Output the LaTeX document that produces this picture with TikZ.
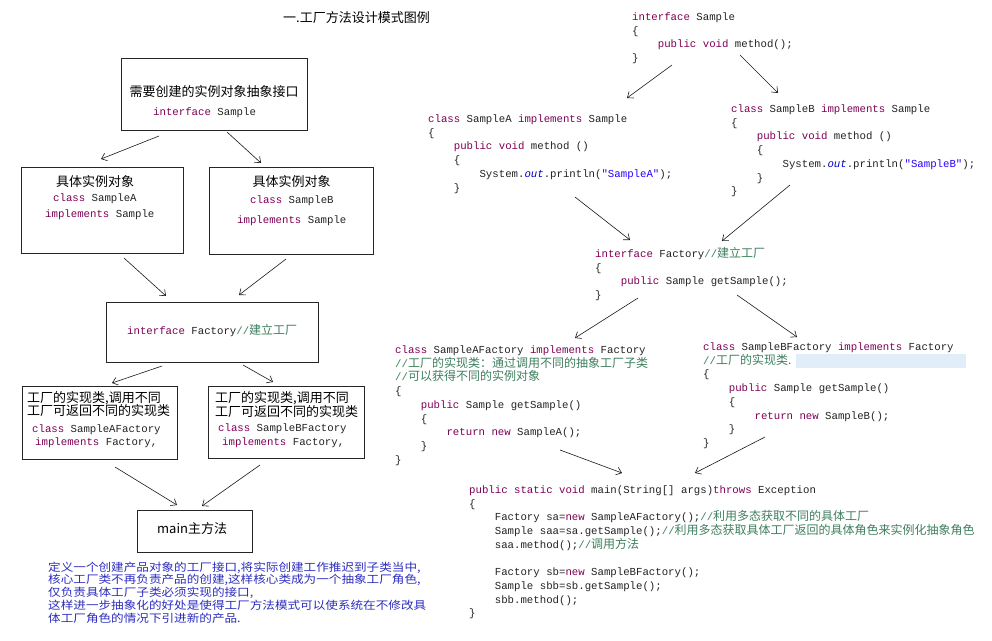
\documentclass[tikz,border=0pt]{standalone}
\usepackage{fontspec}
\usepackage{graphicx}
\setmainfont{Noto Sans CJK SC}
\setmonofont{Liberation Mono}
\newfontfamily\zhf{Noto Sans CJK SC}
\usetikzlibrary{arrows.meta}
\definecolor{kwc}{RGB}{127,0,85}
\definecolor{cmc}{RGB}{63,127,95}
\definecolor{strc}{RGB}{42,0,255}
\definecolor{fldc}{RGB}{0,0,192}
\definecolor{notec}{RGB}{45,45,190}
\definecolor{hlc}{RGB}{225,238,250}
\definecolor{codec}{RGB}{35,35,35}
\newcommand\K[1]{\textcolor{kwc}{#1}}
\newcommand\Zc[1]{\textcolor{cmc}{//\smash{\zhf\fontsize{12}{13.7}\selectfont #1}}}
\newcommand\Str[1]{\textcolor{strc}{#1}}
\newcommand\Fld[1]{\textcolor{fldc}{\itshape #1}}
\newcommand\ind{\phantom{xxxx}}
\newcommand\indd{\phantom{xxxxxxxx}}
\newcommand\cb[1]{\begin{tabular}[t]{@{}l@{}}#1\end{tabular}}
\tikzset{
  code/.style={anchor=base west, inner sep=0, text=codec,
    font=\ttfamily\fontsize{10.7}{13.7}\selectfont},
  zh/.style={anchor=base west, inner sep=0, text=black,
    font=\zhf\fontsize{13}{13}\selectfont},
  box/.style={draw=black!85, line width=0.9pt, inner sep=0, anchor=north west},
  arr/.style={line width=0.6pt, black!90, -{Straight Barb[length=5pt,width=8pt]}}
}
\begin{document}
\begin{tikzpicture}[x=1pt,y=-1pt]
\useasboundingbox (0,0) rectangle (992,640);
\fill[white] (0,0) rectangle (992,640);

% title
\node[zh] (title) at (283,22.5) {一.工厂方法设计模式图例};

% ---------------- left diagram ----------------
\node[box, minimum width=186pt, minimum height=72pt] (top) at (121,58) {};
\node[zh, anchor=base] (topzh) at (214,96.5) {需要创建的实例对象抽象接口};
\node[code] (topcode) at (153,115.5) {\K{interface} Sample};

\node[box, minimum width=162pt, minimum height=86pt] (boxA) at (21,167) {};
\node[zh, anchor=base] (boxAzh) at (95,186.5) {具体实例对象};
\node[code] (boxAc1) at (53,201.5) {\K{class} SampleA};
\node[code] (boxAc2) at (45,217.5) {\K{implements} Sample};

\node[box, minimum width=164pt, minimum height=87pt] (boxB) at (209,167) {};
\node[zh, anchor=base] (boxBzh) at (291.5,186.5) {具体实例对象};
\node[code] (boxBc1) at (250,203.5) {\K{class} SampleB};
\node[code] (boxBc2) at (237,223.5) {\K{implements} Sample};

\node[box, minimum width=212pt, minimum height=60pt] (fac) at (106,302) {};
\node[code] (facc) at (127,334.5) {\K{interface} Factory\Zc{建立工厂}};

\node[box, minimum width=155pt, minimum height=73pt] (boxAF) at (22,386) {};
\node[zh] (boxAFz1) at (27,402.5) {工厂的实现类,调用不同};
\node[zh] (boxAFz2) at (27,415.5) {工厂可返回不同的实现类};
\node[code] (boxAFc1) at (32,432.5) {\K{class} SampleAFactory};
\node[code] (boxAFc2) at (35,445.5) {\K{implements} Factory,};

\node[box, minimum width=156pt, minimum height=72pt] (boxBF) at (208,386) {};
\node[zh] (boxBFz1) at (215,402.5) {工厂的实现类,调用不同};
\node[zh] (boxBFz2) at (215,416) {工厂可返回不同的实现类};
\node[code] (boxBFc1) at (218,431.5) {\K{class} SampleBFactory};
\node[code] (boxBFc2) at (222,445.5) {\K{implements} Factory,};

\node[box, minimum width=115pt, minimum height=42pt] (mainbox) at (137,510) {};
\node[zh] (mainzh) at (157,533.5) {main主方法};

\node[anchor=base west, inner sep=0, text=notec] (desc) at (48,571)
 {\scalebox{1}[0.88]{\zhf\fontsize{12.6}{13}\selectfont\begin{tabular}[t]{@{}l@{}}
 定义一个创建产品对象的工厂接口,将实际创建工作推迟到子类当中,\\
 核心工厂类不再负责产品的创建,这样核心类成为一个抽象工厂角色,\\
 仅负责具体工厂子类必须实现的接口,\\
 这样进一步抽象化的好处是使得工厂方法模式可以使系统在不修改具\\
 体工厂角色的情况下引进新的产品.\end{tabular}}};

% left arrows
\coordinate (a1s) at (159,136); \coordinate (a1e) at (101,159);
\coordinate (a2s) at (227,132); \coordinate (a2e) at (261,163);
\coordinate (a3s) at (124,258); \coordinate (a3e) at (166,296);
\coordinate (a4s) at (286,259); \coordinate (a4e) at (239,295);
\coordinate (a5s) at (162,366); \coordinate (a5e) at (112,383);
\coordinate (a6s) at (243,365); \coordinate (a6e) at (273,382);
\coordinate (a7s) at (115,467); \coordinate (a7e) at (177,505);
\coordinate (a8s) at (260,465); \coordinate (a8e) at (202,506);
\foreach \i in {1,...,8} \draw[arr] (a\i s) -- (a\i e);

% ---------------- right code ----------------
\fill[hlc] (796,354) rectangle (966,368);

\node[code] (cS) at (632,20.5) {\cb{\K{interface} Sample\\
\{\\
\ind\K{public} \K{void} method();\\
\}}};

\node[code] (cA) at (428,122.5) {\cb{\K{class} SampleA \K{implements} Sample\\
\{\\
\ind\K{public} \K{void} method ()\\
\ind\{\\
\indd System.\Fld{out}.println(\Str{"SampleA"});\\
\ind\}}};

\node[code] (cB) at (731,112.5) {\cb{\K{class} SampleB \K{implements} Sample\\
\{\\
\ind\K{public} \K{void} method ()\\
\ind\{\\
\indd System.\Fld{out}.println(\Str{"SampleB"});\\
\ind\}\\
\}}};

\node[code] (cF) at (595,257.5) {\cb{\K{interface} Factory\Zc{建立工厂}\\
\{\\
\ind\K{public} Sample getSample();\\
\}}};

\node[code] (cAF) at (395,353.5) {\cb{\K{class} SampleAFactory \K{implements} Factory\\
\Zc{工厂的实现类：通过调用不同的抽象工厂子类}\\
\Zc{可以获得不同的实例对象}\\
\{\\
\ind\K{public} Sample getSample()\\
\ind\{\\
\indd\K{return} \K{new} SampleA();\\
\ind\}\\
\}}};

\node[code] (cBF) at (703,350.5) {\cb{\K{class} SampleBFactory \K{implements} Factory\\
\Zc{工厂的实现类.}\\
\{\\
\ind\K{public} Sample getSample()\\
\ind\{\\
\indd\K{return} \K{new} SampleB();\\
\ind\}\\
\}}};

\node[code] (cM) at (469,493.5) {\cb{\K{public} \K{static} \K{void} main(String[] args)\K{throws} Exception\\
\{\\
\ind Factory sa=\K{new} SampleAFactory();\Zc{利用多态获取不同的具体工厂}\\
\ind Sample saa=sa.getSample();\Zc{利用多态获取具体工厂返回的具体角色来实例化抽象角色}\\
\ind saa.method();\Zc{调用方法}\\
\\
\ind Factory sb=\K{new} SampleBFactory();\\
\ind Sample sbb=sb.getSample();\\
\ind sbb.method();\\
\}}};

% right arrows
\coordinate (b1s) at (672,65);  \coordinate (b1e) at (627,98);
\coordinate (b2s) at (740,55);  \coordinate (b2e) at (778,93);
\coordinate (b3s) at (575,197); \coordinate (b3e) at (630,240);
\coordinate (b4s) at (790,185); \coordinate (b4e) at (722,241);
\coordinate (b5s) at (638,298); \coordinate (b5e) at (575,338);
\coordinate (b6s) at (737,295); \coordinate (b6e) at (797,337);
\coordinate (b7s) at (560,450); \coordinate (b7e) at (622,473);
\coordinate (b8s) at (765,437); \coordinate (b8e) at (695,473);
\foreach \i in {1,...,8} \draw[arr] (b\i s) -- (b\i e);
\end{tikzpicture}
\end{document}
